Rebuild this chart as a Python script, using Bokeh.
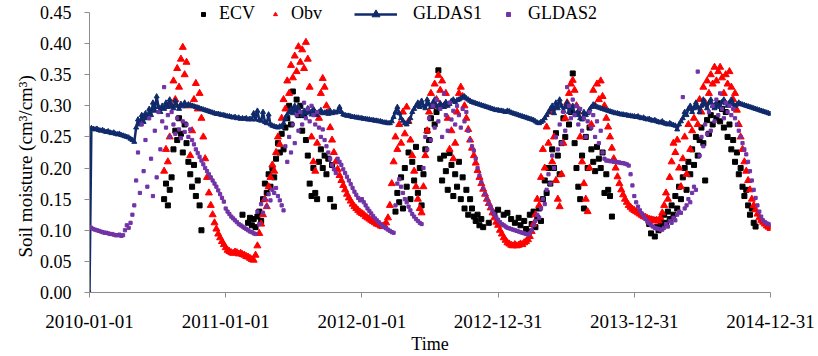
from datetime import datetime, timedelta
import numpy as np
from bokeh.plotting import figure
from bokeh.models import (Range1d, FixedTicker, DatetimeTickFormatter, PrintfTickFormatter,
                          Legend, LegendItem, Title)
from bokeh.embed import file_html
from bokeh.resources import INLINE

# ---------------- data (one value every 5 days) ----------------
tick_labels = ["2010-01-01", "2011-01-01", "2012-01-01", "2012-12-31", "2013-12-31", "2014-12-31"]
y_ticks = [0.00, 0.05, 0.10, 0.15, 0.20, 0.25, 0.30, 0.35, 0.40, 0.45]
series_names = ["ECV", "Obv", "GLDAS1", "GLDAS2"]
step_days = 5
year_starts = ["2010-01-01", "2011-01-01", "2012-01-01", "2012-12-31", "2013-12-31"]

ecv_2010 = [None] * 40 + [
    0.150, 0.175, 0.140, 0.165, 0.185, 0.230, 0.260, 0.245, 0.280, 0.255,
    0.225, 0.270, 0.240, 0.210, 0.190, 0.170, 0.205, 0.155, 0.180, 0.140,
    0.100] + [None] * 12
ecv_2011 = [None] * 9 + [0.125, None, None,
    0.112, 0.120, 0.108, 0.118, 0.105, 0.122, 0.130, 0.115,
    0.150, 0.175, 0.160, 0.190, 0.170, 0.200, 0.185, 0.215, 0.240, 0.225,
    0.255, 0.230, 0.265, 0.280, 0.300, 0.270, 0.323, 0.295, 0.310, 0.285,
    0.300, 0.260, 0.285, 0.245, 0.220, 0.175, 0.155, 0.200, 0.160, 0.150,
    0.210, 0.230, 0.200, 0.220, 0.190, 0.215, 0.150, 0.205, 0.138, None] + [None] * 13
ecv_2012 = [None] * 18 + [0.130, 0.160,
    0.145, 0.185, 0.135, 0.200, 0.170, 0.225, 0.150, 0.210, 0.180, 0.234,
    0.160, 0.200, 0.140, 0.190, 0.230, 0.260, 0.245, 0.280, 0.300, 0.270,
    0.290, 0.357, 0.215, 0.180, 0.220, 0.195, 0.165, 0.224, 0.205, 0.155,
    0.190, 0.170, 0.210, 0.150, 0.185, 0.135, 0.165, 0.125, 0.150, 0.135,
    0.122, 0.115, 0.125, 0.108, 0.118, 0.105, None, None, 0.112, None,
    None, 0.128, None]
ecv_2013 = [
    0.133, None, None, 0.125, None, 0.128, None, 0.118, None, 0.112,
    None, 0.120, 0.108, None, 0.115, 0.102, 0.098, 0.125, 0.110, 0.130,
    0.105, 0.120, 0.135, 0.115, 0.150, 0.180, 0.160, 0.200, 0.175, 0.230,
    0.200, 0.256, 0.220, 0.190, 0.240, 0.280, 0.250, 0.300, 0.270, 0.290,
    0.352, 0.240, 0.200, 0.170, 0.150, 0.220, 0.135, 0.250, 0.200, 0.265,
    0.230, 0.210, 0.195, 0.234, 0.215, 0.200, 0.225, 0.160, 0.190, 0.165,
    0.155, 0.122] + [None] * 11
ecv_2014 = [None] * 8 + [
    0.110, 0.095, 0.117, 0.090, 0.105, 0.100, 0.115, 0.108, 0.125, 0.112, 0.130, 0.118,
    0.140, 0.125, 0.155, 0.135, 0.170, 0.150, 0.185, 0.200, 0.165, 0.210,
    0.190, 0.230, 0.205, 0.250, 0.220, 0.245, 0.265, 0.240, 0.180, 0.277,
    0.255, 0.285, 0.270, 0.300, 0.280, 0.304, 0.275, 0.295, 0.265, 0.290,
    0.250, 0.270, 0.230, 0.245, 0.210, 0.225, 0.190, 0.200, 0.170, 0.155,
    0.165, 0.140, 0.125, 0.135, 0.112, 0.106] + [None] * 8

obv_2010 = [None] * 40 + [
    0.195, 0.230, 0.210, 0.250, 0.300, 0.340, 0.310, 0.360, 0.330, 0.375,
    0.394, 0.350, 0.370, 0.300, 0.220, 0.260, 0.310, 0.336, 0.295, 0.320,
    0.280, 0.250, 0.215, 0.185, 0.160, 0.140, 0.125, 0.112, 0.102, 0.094,
    0.088, 0.082, 0.077]
obv_2011 = [
    0.072, 0.068, 0.066, 0.064, 0.063, 0.065, 0.064, 0.062, 0.063, 0.061,
    0.060, 0.058, 0.057, 0.055, 0.053, 0.052, 0.060, 0.075, 0.095, 0.110,
    0.125, 0.150, 0.138, 0.170, 0.185, 0.205, 0.195, 0.225, 0.250, 0.238,
    0.280, 0.310, 0.295, 0.340, 0.320, 0.365, 0.345, 0.380, 0.355, 0.395,
    0.370, 0.390, 0.360, 0.402, 0.375, 0.330, 0.250, 0.210, 0.195, 0.240,
    0.280, 0.320, 0.344, 0.330, 0.300, 0.290, 0.265, 0.245, 0.225, 0.210,
    0.198, 0.188, 0.180, 0.172, 0.165, 0.158, 0.152, 0.147, 0.142, 0.138,
    0.135, 0.132, 0.129]
obv_2012 = [
    0.127, 0.125, 0.122, 0.120, 0.118, 0.116, 0.114, 0.112, 0.110, 0.109,
    0.107, 0.106, 0.108, 0.112, 0.120, 0.140, 0.175, 0.210, 0.250, 0.230,
    0.270, 0.240, 0.290, 0.255, 0.298, 0.275, 0.245, 0.220, 0.195, 0.170,
    0.150, 0.135, 0.128, 0.170, 0.220, 0.260, 0.290, 0.320, 0.300, 0.335,
    0.310, 0.349, 0.325, 0.340, 0.300, 0.320, 0.280, 0.230, 0.260, 0.215,
    0.240, 0.290, 0.320, 0.330, 0.315, 0.300, 0.280, 0.262, 0.245, 0.232,
    0.220, 0.208, 0.196, 0.185, 0.175, 0.166, 0.158, 0.150, 0.143, 0.136,
    0.128, 0.120, 0.113]
obv_2013 = [
    0.108, 0.100, 0.094, 0.088, 0.084, 0.080, 0.078, 0.076, 0.075, 0.077,
    0.075, 0.076, 0.078, 0.077, 0.080, 0.082, 0.085, 0.090, 0.098, 0.110,
    0.125, 0.150, 0.140, 0.185, 0.230, 0.200, 0.266, 0.240, 0.290, 0.210,
    0.250, 0.180, 0.150, 0.138, 0.190, 0.240, 0.280, 0.305, 0.320, 0.335,
    0.341, 0.325, 0.300, 0.290, 0.250, 0.210, 0.175, 0.150, 0.130, 0.200,
    0.270, 0.325, 0.300, 0.335, 0.310, 0.340, 0.315, 0.300, 0.280, 0.266,
    0.250, 0.232, 0.215, 0.200, 0.186, 0.175, 0.165, 0.157, 0.150, 0.145,
    0.140, 0.137, 0.134]
obv_2014 = [
    0.132, 0.130, 0.128, 0.126, 0.124, 0.122, 0.121, 0.119, 0.118, 0.117,
    0.116, 0.115, 0.116, 0.115, 0.120, 0.128, 0.140, 0.160, 0.150, 0.185,
    0.210, 0.240, 0.225, 0.245, 0.200, 0.170, 0.215, 0.250, 0.190, 0.270,
    0.230, 0.260, 0.280, 0.300, 0.270, 0.310, 0.290, 0.330, 0.305, 0.340,
    0.320, 0.350, 0.335, 0.362, 0.340, 0.355, 0.362, 0.345, 0.320, 0.350,
    0.335, 0.355, 0.330, 0.310, 0.320, 0.293, 0.270, 0.250, 0.230, 0.210,
    0.195, 0.180, 0.165, 0.150, 0.140, 0.133, 0.126, 0.120, 0.116, 0.113,
    0.110, 0.107, 0.105, 0.103]

gldas1_2010 = [
    0.000, 0.264, 0.263, 0.262, 0.263, 0.261, 0.260, 0.261, 0.259, 0.258,
    0.259, 0.257, 0.256, 0.257, 0.255, 0.254, 0.255, 0.253, 0.252, 0.251,
    0.250, 0.249, 0.247, 0.245, 0.242, 0.265, 0.278, 0.270, 0.285, 0.274,
    0.288, 0.280, 0.295, 0.285, 0.305, 0.292, 0.315, 0.298, 0.290, 0.300,
    0.295, 0.305, 0.298, 0.310, 0.300, 0.296, 0.308, 0.300, 0.295, 0.303,
    0.299, 0.305, 0.300, 0.302, 0.301, 0.300, 0.299, 0.298, 0.297, 0.296,
    0.295, 0.294, 0.293, 0.292, 0.291, 0.290, 0.289, 0.288, 0.287, 0.287,
    0.286, 0.285, 0.285]
gldas1_2011 = [
    0.284, 0.283, 0.283, 0.282, 0.281, 0.282, 0.280, 0.281, 0.279, 0.280,
    0.279, 0.280, 0.278, 0.279, 0.278, 0.288, 0.278, 0.292, 0.277, 0.276,
    0.290, 0.274, 0.272, 0.286, 0.270, 0.268, 0.267, 0.266, 0.265, 0.267,
    0.266, 0.272, 0.280, 0.286, 0.290, 0.295, 0.288, 0.300, 0.292, 0.298,
    0.290, 0.285, 0.292, 0.288, 0.296, 0.290, 0.286, 0.295, 0.290, 0.285,
    0.290, 0.293, 0.288, 0.289, 0.290, 0.287, 0.292, 0.288, 0.290, 0.289,
    0.291, 0.298, 0.290, 0.286, 0.285, 0.284, 0.284, 0.283, 0.282, 0.282,
    0.281, 0.281, 0.280]
gldas1_2012 = [
    0.280, 0.279, 0.279, 0.278, 0.278, 0.277, 0.277, 0.276, 0.276, 0.275,
    0.275, 0.274, 0.273, 0.273, 0.272, 0.272, 0.275, 0.282, 0.290, 0.298,
    0.288, 0.280, 0.276, 0.272, 0.270, 0.274, 0.280, 0.290, 0.295, 0.300,
    0.305, 0.298, 0.308, 0.300, 0.296, 0.310, 0.302, 0.298, 0.305, 0.310,
    0.300, 0.296, 0.304, 0.300, 0.298, 0.306, 0.300, 0.303, 0.308, 0.310,
    0.306, 0.309, 0.310, 0.312, 0.314, 0.315, 0.312, 0.310, 0.308, 0.306,
    0.305, 0.304, 0.303, 0.302, 0.301, 0.300, 0.299, 0.298, 0.297, 0.296,
    0.295, 0.294, 0.293]
gldas1_2013 = [
    0.293, 0.292, 0.292, 0.291, 0.290, 0.292, 0.291, 0.289, 0.288, 0.287,
    0.286, 0.285, 0.284, 0.283, 0.282, 0.281, 0.280, 0.279, 0.278, 0.277,
    0.275, 0.273, 0.272, 0.274, 0.276, 0.280, 0.285, 0.290, 0.295, 0.300,
    0.288, 0.305, 0.296, 0.310, 0.300, 0.292, 0.298, 0.305, 0.290, 0.296,
    0.300, 0.288, 0.285, 0.292, 0.280, 0.278, 0.290, 0.285, 0.288, 0.294,
    0.298, 0.302, 0.300, 0.298, 0.297, 0.296, 0.295, 0.294, 0.293, 0.292,
    0.291, 0.290, 0.289, 0.288, 0.288, 0.287, 0.286, 0.286, 0.285, 0.285,
    0.284, 0.284, 0.283]
gldas1_2014 = [
    0.283, 0.282, 0.283, 0.281, 0.280, 0.281, 0.279, 0.278, 0.279, 0.277,
    0.276, 0.277, 0.275, 0.274, 0.273, 0.275, 0.272, 0.271, 0.270, 0.272,
    0.270, 0.269, 0.268, 0.262, 0.270, 0.275, 0.280, 0.290, 0.285, 0.295,
    0.300, 0.290, 0.296, 0.305, 0.298, 0.290, 0.300, 0.310, 0.302, 0.296,
    0.305, 0.310, 0.300, 0.296, 0.305, 0.300, 0.298, 0.306, 0.310, 0.304,
    0.300, 0.305, 0.310, 0.303, 0.300, 0.302, 0.305, 0.303, 0.302, 0.301,
    0.300, 0.299, 0.298, 0.297, 0.296, 0.295, 0.294, 0.293, 0.292, 0.291,
    0.290, 0.289, 0.288, 0.287]

gldas2_2010 = [
    0.105, 0.104, 0.102, 0.101, 0.100, 0.099, 0.098, 0.097, 0.096, 0.096,
    0.095, 0.094, 0.094, 0.093, 0.092, 0.092, 0.093, 0.091, 0.092, 0.100,
    0.108, 0.104, 0.112, 0.125, 0.140, 0.180, 0.225, 0.160, 0.270, 0.195,
    0.245, 0.170, 0.280, 0.215, 0.155, 0.260, 0.185, 0.290, 0.230, 0.275,
    0.330, 0.265, 0.285, 0.250, 0.290, 0.270, 0.255, 0.280, 0.262, 0.248,
    0.275, 0.258, 0.270, 0.250, 0.262, 0.245, 0.238, 0.230, 0.224, 0.218,
    0.212, 0.206, 0.200, 0.195, 0.190, 0.185, 0.180, 0.175, 0.170, 0.164,
    0.158, 0.152, 0.146]
gldas2_2011 = [
    0.135, 0.130, 0.126, 0.122, 0.119, 0.116, 0.113, 0.110, 0.108, 0.106,
    0.104, 0.102, 0.100, 0.098, 0.097, 0.095, 0.094, 0.130, 0.110, 0.142,
    0.128, 0.150, 0.138, 0.158, 0.148, 0.165, 0.160, 0.168, 0.155, 0.148,
    0.140, 0.132, 0.235, 0.210, 0.250, 0.225, 0.270, 0.240, 0.285, 0.260,
    0.290, 0.270, 0.305, 0.280, 0.295, 0.275, 0.300, 0.285, 0.270, 0.290,
    0.265, 0.250, 0.262, 0.245, 0.235, 0.225, 0.215, 0.205, 0.198, 0.192,
    0.215, 0.210, 0.205, 0.198, 0.192, 0.186, 0.180, 0.174, 0.168, 0.162,
    0.157, 0.152, 0.148]
gldas2_2012 = [
    0.150, 0.145, 0.140, 0.135, 0.131, 0.127, 0.123, 0.119, 0.116, 0.113,
    0.110, 0.107, 0.105, 0.103, 0.101, 0.099, 0.097, 0.096, 0.140, 0.175,
    0.182, 0.170, 0.160, 0.150, 0.145, 0.138, 0.132, 0.126, 0.122, 0.118,
    0.115, 0.112, 0.110, 0.200, 0.250, 0.230, 0.280, 0.245, 0.300, 0.265,
    0.310, 0.275, 0.295, 0.250, 0.320, 0.285, 0.260, 0.305, 0.278, 0.292,
    0.270, 0.300, 0.285, 0.265, 0.295, 0.275, 0.290, 0.260, 0.245, 0.235,
    0.228, 0.215, 0.200, 0.188, 0.177, 0.167, 0.158, 0.150, 0.143, 0.137,
    0.131, 0.126, 0.121]
gldas2_2013 = [
    0.117, 0.113, 0.110, 0.108, 0.106, 0.104, 0.103, 0.102, 0.101, 0.100,
    0.099, 0.098, 0.097, 0.096, 0.095, 0.094, 0.093, 0.095, 0.100, 0.108,
    0.115, 0.125, 0.120, 0.135, 0.150, 0.142, 0.165, 0.190, 0.175, 0.220,
    0.200, 0.250, 0.230, 0.270, 0.240, 0.290, 0.260, 0.330, 0.300, 0.280,
    0.310, 0.285, 0.300, 0.270, 0.295, 0.260, 0.280, 0.250, 0.275, 0.290,
    0.265, 0.285, 0.250, 0.275, 0.240, 0.260, 0.225, 0.215, 0.212, 0.212,
    0.211, 0.211, 0.210, 0.210, 0.209, 0.209, 0.208, 0.208, 0.207, 0.206,
    0.204, 0.190, 0.172]
gldas2_2014 = [
    0.155, 0.145, 0.138, 0.132, 0.127, 0.122, 0.118, 0.114, 0.111, 0.108,
    0.106, 0.104, 0.103, 0.102, 0.101, 0.101, 0.104, 0.110, 0.106, 0.115,
    0.112, 0.120, 0.116, 0.125, 0.130, 0.128, 0.314, 0.135, 0.140, 0.150,
    0.145, 0.160, 0.170, 0.165, 0.355, 0.220, 0.250, 0.235, 0.270, 0.255,
    0.290, 0.260, 0.300, 0.275, 0.310, 0.285, 0.320, 0.295, 0.280, 0.305,
    0.290, 0.300, 0.285, 0.295, 0.280, 0.270, 0.260, 0.250, 0.240, 0.230,
    0.222, 0.210, 0.195, 0.180, 0.165, 0.152, 0.140, 0.130, 0.122, 0.116,
    0.113, 0.111, 0.110, 0.109]

ecv_years = [ecv_2010, ecv_2011, ecv_2012, ecv_2013, ecv_2014]
obv_years = [obv_2010, obv_2011, obv_2012, obv_2013, obv_2014]
gldas1_years = [gldas1_2010, gldas1_2011, gldas1_2012, gldas1_2013, gldas1_2014]
gldas2_years = [gldas2_2010, gldas2_2011, gldas2_2012, gldas2_2013, gldas2_2014]


def build(years):
    xs, ys = [], []
    for start, vals in zip(year_starts, years):
        d0 = datetime.strptime(start, "%Y-%m-%d")
        for j, v in enumerate(vals):
            xs.append(d0 + timedelta(days=step_days * j))
            ys.append(np.nan if v is None else v)
    return xs, np.array(ys, dtype=float)


ecv_x, ecv_y = build(ecv_years)
obv_x, obv_y = build(obv_years)
g1_x, g1_y = build(gldas1_years)
g2_x, g2_y = build(gldas2_years)

# ---------------- figure ----------------
FONT = "Liberation Serif"
AXIS_COLOR = "#8c8c8c"
tick_dates = [datetime.strptime(t, "%Y-%m-%d") for t in tick_labels]
tick_ms = [(d - datetime(1970, 1, 1)).total_seconds() * 1000 for d in tick_dates]

# frame spans the full height above the x axis (room for the legend); 0.45 sits 12 px below the top
Y_TOP = y_ticks[-1] * 293.0 / 281.0

p = figure(width=818, height=356, x_axis_type="datetime", output_backend="svg",
           toolbar_location=None,
           x_range=Range1d(tick_dates[0], tick_dates[-1]), y_range=Range1d(0, Y_TOP),
           min_border_left=89, min_border_right=48, min_border_top=0, min_border_bottom=63)
p.background_fill_color = "white"
p.border_fill_color = "white"
p.outline_line_color = None
p.xgrid.visible = False
p.ygrid.visible = False

fmt = "%Y-%m-%d"
p.xaxis.ticker = FixedTicker(ticks=tick_ms)
p.xaxis.formatter = DatetimeTickFormatter(
    microseconds=fmt, milliseconds=fmt, seconds=fmt, minsec=fmt, minutes=fmt,
    hourmin=fmt, hours=fmt, days=fmt, months=fmt, years=fmt)
p.yaxis.ticker = FixedTicker(ticks=y_ticks)
p.yaxis.formatter = PrintfTickFormatter(format="%.2f")
p.yaxis.bounds = (y_ticks[0], y_ticks[-1])

for ax in (p.xaxis[0], p.yaxis[0]):
    ax.axis_line_color = AXIS_COLOR
    ax.major_tick_line_color = AXIS_COLOR
    ax.minor_tick_line_color = None
    ax.major_tick_in = 0
    ax.major_tick_out = 5
    ax.major_label_text_font = FONT
    ax.major_label_text_font_size = "18px"
    ax.major_label_text_color = "black"
    ax.axis_label_text_font = FONT
    ax.axis_label_text_font_style = "normal"
    ax.axis_label_text_color = "black"

p.xaxis.major_label_text_font_size = "19px"
p.xaxis.axis_label = "Time"
p.xaxis.axis_label_text_font_size = "18px"
p.xaxis.major_label_standoff = 17
p.xaxis.axis_label_standoff = 3
p.yaxis.major_label_standoff = 13

# y-axis title as a left-side Title so it can sit slightly below the frame centre, as in the reference
p.add_layout(Title(text="Soil moisture (cm³/cm³)", align="left", offset=35,
                   text_font=FONT, text_font_size="19px", text_font_style="normal",
                   text_color="black", standoff=2), "left")

r_ecv = p.scatter(ecv_x, ecv_y, marker="square", size=5, color="black")
r_obv = p.scatter(obv_x, obv_y, marker="triangle", size=7, color="#ff0000")
r_g1l = p.line(g1_x, g1_y, line_color="#102a6b", line_width=2.5)
r_g1m = p.scatter(g1_x, g1_y, marker="triangle", size=5, color="#102a6b")
r_g2 = p.scatter(g2_x, g2_y, marker="square", size=3.2, color="#7133a6")


def add_legend(label, renderers, x, glyph_w, standoff):
    leg = Legend(items=[LegendItem(label=label, renderers=renderers)],
                 location=(x, 268), orientation="horizontal",
                 glyph_width=glyph_w, glyph_height=20, label_height=20,
                 label_standoff=standoff, padding=0, margin=0, spacing=0,
                 border_line_color=None, background_fill_alpha=0,
                 label_text_font=FONT, label_text_font_size="18px",
                 label_text_color="black")
    p.add_layout(leg)


add_legend(series_names[0], [r_ecv], 109, 10, 11)
add_legend(series_names[1], [r_obv], 181, 10, 11)
add_legend(series_names[2], [r_g1l, r_g1m], 265, 43, 16)
add_legend(series_names[3], [r_g2], 414, 10, 15)

open("out.html", "w").write(file_html(p, INLINE))
